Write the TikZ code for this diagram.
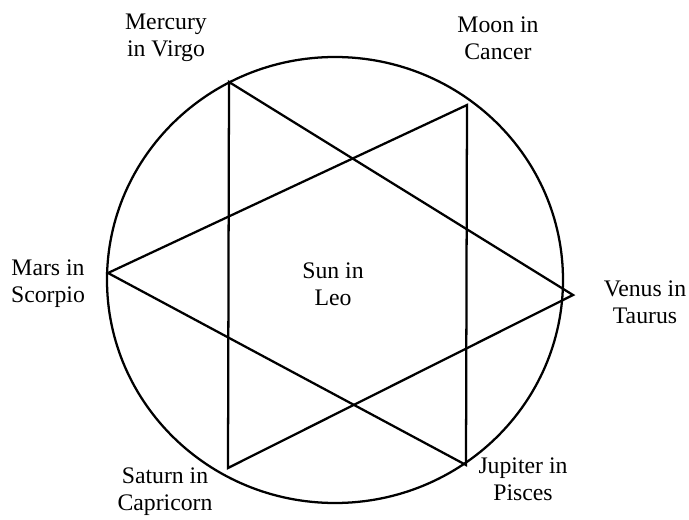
\documentclass[tikz,border=0pt]{standalone}
\usepackage{fontspec}
\setmainfont{Liberation Serif}
\usetikzlibrary{positioning}

\begin{document}
\begin{tikzpicture}[x=0.75pt,y=-0.75pt,
  edge/.style={line width=1.7pt,line join=miter},
  sign/.style={align=center,font=\fontsize{17.8}{20.2}\selectfont,inner sep=0pt}]
\useasboundingbox (0,0) rectangle (689,520);
% wheel
\draw[edge] (335,280) ellipse [x radius=228,y radius=223];
% star points
\coordinate (pmerc) at (229,82);
\coordinate (pmoon) at (467,105);
\coordinate (pmars) at (108,273);
\coordinate (pvenus) at (573,295);
\coordinate (psat) at (228,468);
\coordinate (pjup) at (466,465);
\draw[edge] (pmerc)--(pvenus)--(psat)--cycle;
\draw[edge] (pmoon)--(pmars)--(pjup)--cycle;
% labels
\node[sign] (merc) at (166,38) {Mercury\\in Virgo};
\node[sign] (moon) at (498,38) {Moon in\\Cancer};
\node[sign] (mars) at (48,284) {Mars in\\Scorpio};
\node[sign] (sun) at (333,284) {Sun in\\Leo};
\node[sign] (venus) at (645,302) {Venus in\\Taurus};
\node[sign] (sat) at (165,492) {Saturn in\\Capricorn};
\node[sign] (jup) at (523,479) {Jupiter in\\Pisces};
\end{tikzpicture}
\end{document}
